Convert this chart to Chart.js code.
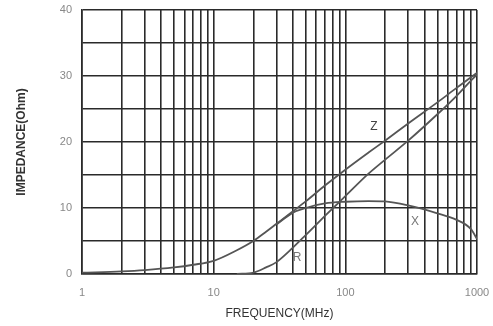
<!DOCTYPE html>
<html>
<head>
<meta charset="utf-8">
<script src="https://cdn.jsdelivr.net/npm/chart.js@4"></script>
<style>
  html, body { margin: 0; padding: 0; background: #fff; }
  #wrap { width: 493px; height: 326px; }
</style>
</head>
<body>
<div id="wrap"><canvas id="impChart" width="493" height="326"></canvas></div>
<script>
// frequency points (MHz) and impedance readings (Ohm)
const freqs = [1, 2, 3, 5, 7, 10, 15, 20, 25, 30, 40, 50, 70, 100, 150, 200, 300, 500, 700, 900, 1000];
const zValues = [0.2, 0.4, 0.6, 1.0, 1.4, 2.0, 3.6, 5.0, 6.4, 7.6, 9.5, 11.0, 13.4, 15.8, 18.4, 20.2, 22.8, 26.0, 28.2, 29.8, 30.5];
const rValues = [null, null, null, null, null, null, 0, 0.2, 1.0, 1.8, 4.0, 5.9, 8.8, 11.8, 15.2, 17.3, 20.2, 24.2, 27.0, 29.3, 30.2];
const xValues = [null, null, null, null, null, null, null, null, null, 7.5, 9.3, 10.0, 10.7, 10.95, 11.05, 11.0, 10.4, 9.2, 8.2, 6.8, 5.3];

// tick marks
const xTickValues = [1, 2, 3, 4, 5, 6, 7, 8, 9, 10, 20, 30, 40, 50, 60, 70, 80, 90, 100,
                     200, 300, 400, 500, 600, 700, 800, 900, 1000];
const xTickLabels = ['1', '10', '100', '1000'];
const yTickLabels = ['0', '10', '20', '30', '40'];

// curve name labels placed at (MHz, Ohm)
const curveNames = ['Z', 'R', 'X'];
const curveNameFreq = [165, 43, 338];
const curveNameOhm = [22.3, 2.4, 8.0];
const curveNameColor = ['#444', '#777', '#777'];

function toPoints(vals) {
    return freqs.map((f, i) => ({ x: f, y: vals[i] }));
}

const lineStyle = {
    borderColor: '#555',
    borderWidth: 1.8,
    pointRadius: 0,
    fill: false,
    cubicInterpolationMode: 'monotone',
    spanGaps: false
};

const curveLabelPlugin = {
    id: 'curveLabels',
    afterDatasetsDraw(chart) {
        const ctx = chart.ctx;
        const xs = chart.scales.x;
        const ys = chart.scales.y;
        ctx.save();
        ctx.font = '12px "Liberation Sans", Arial, sans-serif';
        ctx.textAlign = 'center';
        ctx.textBaseline = 'middle';
        curveNames.forEach((name, i) => {
            ctx.fillStyle = curveNameColor[i];
            ctx.fillText(name, xs.getPixelForValue(curveNameFreq[i]), ys.getPixelForValue(curveNameOhm[i]));
        });
        ctx.restore();
    }
};

new Chart(document.getElementById('impChart'), {
    type: 'line',
    data: {
        datasets: [
            Object.assign({ label: 'Z', data: toPoints(zValues) }, lineStyle),
            Object.assign({ label: 'R', data: toPoints(rValues) }, lineStyle),
            Object.assign({ label: 'X', data: toPoints(xValues) }, lineStyle)
        ]
    },
    options: {
        responsive: false,
        animation: false,
        devicePixelRatio: 1,
        layout: { padding: { top: 10, right: 16, left: 0, bottom: 0 } },
        plugins: {
            legend: { display: false },
            tooltip: { enabled: false }
        },
        scales: {
            x: {
                type: 'logarithmic',
                min: 1,
                max: 1000,
                afterBuildTicks(scale) {
                    scale.ticks = xTickValues.map(v => ({ value: v }));
                },
                afterFit(scale) {
                    scale.height = 52;
                    scale.paddingLeft = 0;
                    scale.paddingRight = 0;
                },
                grid: { color: '#2a2a2a', lineWidth: 1.6, drawTicks: false },
                border: { color: '#2a2a2a', width: 1.6 },
                ticks: {
                    autoSkip: false,
                    maxRotation: 0,
                    padding: 12,
                    color: '#888',
                    font: { family: '"Liberation Sans", Arial, sans-serif', size: 11 },
                    callback(value) {
                        const s = String(value);
                        return xTickLabels.includes(s) ? s : '';
                    }
                },
                title: {
                    display: true,
                    text: 'FREQUENCY(MHz)',
                    color: '#333',
                    padding: { top: 0, bottom: 5 },
                    font: { family: '"Liberation Sans", Arial, sans-serif', size: 12 }
                }
            },
            y: {
                min: 0,
                max: 40,
                afterFit(scale) {
                    scale.width = 82;
                    scale.paddingTop = 0;
                    scale.paddingBottom = 0;
                },
                grid: { color: '#2a2a2a', lineWidth: 1.6, drawTicks: false },
                border: { color: '#2a2a2a', width: 1.6 },
                ticks: {
                    stepSize: 5,
                    padding: 10,
                    color: '#888',
                    font: { family: '"Liberation Sans", Arial, sans-serif', size: 11 },
                    callback(value) {
                        const s = String(value);
                        return yTickLabels.includes(s) ? s : '';
                    }
                },
                title: {
                    display: true,
                    text: 'IMPEDANCE(Ohm)',
                    color: '#333',
                    padding: { top: 14, bottom: 0 },
                    font: { family: '"Liberation Sans", Arial, sans-serif', size: 12, weight: 'bold' }
                }
            }
        }
    },
    plugins: [curveLabelPlugin]
});
</script>
</body>
</html>
